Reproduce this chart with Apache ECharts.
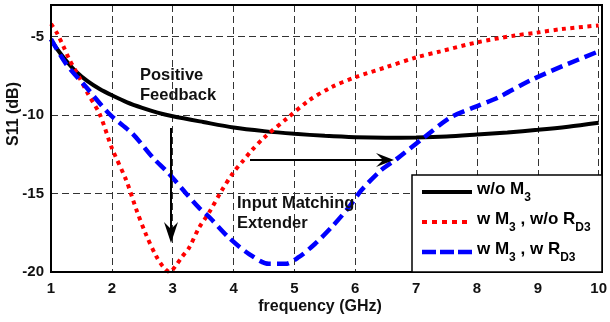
<!DOCTYPE html>
<html>
<head>
<meta charset="utf-8">
<script src="https://cdn.jsdelivr.net/npm/echarts@6/dist/echarts.min.js"></script>
<style>
html,body{margin:0;padding:0;background:#fff;}
#chart{width:610px;height:322px;}
</style>
</head>
<body>
<div id="chart"></div>
<script>
// ---- data ----
const xTicks = [1, 2, 3, 4, 5, 6, 7, 8, 9, 10];
const yTicks = [-20, -15, -10, -5];

const freqBlack = [1.0, 1.1, 1.25, 1.4, 1.6, 1.8, 2.0, 2.25, 2.5, 2.75, 3.0, 3.5, 4.0, 4.5, 5.0, 5.5, 6.0, 6.5, 7.0, 7.5, 8.0, 8.5, 9.0, 9.5, 10.0];
const s11Black  = [-5.2, -5.8, -6.55, -7.2, -7.85, -8.35, -8.75, -9.2, -9.55, -9.85, -10.08, -10.45, -10.8, -11.03, -11.2, -11.33, -11.42, -11.45, -11.43, -11.37, -11.25, -11.12, -10.95, -10.75, -10.5];

const freqRed = [1.0, 1.1, 1.2, 1.3, 1.45, 1.6, 1.8, 2.0, 2.24, 2.4, 2.56, 2.73, 2.85, 2.95, 3.05, 3.15, 3.27, 3.43, 3.6, 3.8, 4.0, 4.15, 4.3, 4.5, 4.9, 5.23, 5.6, 6.0, 6.5, 7.0, 7.4, 8.0, 8.6, 9.0, 9.4, 10.0];
const s11Red  = [-4.2, -4.8, -5.6, -6.45, -7.5, -8.6, -9.95, -12.1, -14.2, -16.0, -17.6, -19.0, -19.7, -20.0, -19.6, -19.05, -18.45, -17.2, -16.2, -14.85, -13.65, -12.95, -12.25, -11.45, -10.15, -9.1, -8.25, -7.6, -6.97, -6.34, -5.95, -5.38, -4.96, -4.75, -4.53, -4.3];

const freqBlue = [1.0, 1.25, 1.58, 1.96, 2.34, 2.67, 2.94, 3.22, 3.43, 3.6, 3.92, 4.25, 4.58, 4.85, 5.07, 5.34, 5.61, 5.89, 6.1, 6.43, 6.7, 7.14, 7.57, 7.96, 8.34, 8.88, 9.42, 10.0];
const s11Blue  = [-5.17, -6.76, -8.24, -9.94, -11.2, -12.7, -13.75, -15.0, -15.9, -16.5, -17.8, -18.84, -19.48, -19.48, -19.06, -18.2, -17.15, -15.9, -14.8, -13.5, -12.75, -11.4, -10.15, -9.5, -8.9, -7.8, -6.87, -5.95];

const seriesNames = ['w/o M3', 'w M3 , w/o RD3', 'w M3 , w RD3'];

// ---- layout ----
const G = {left: 51, top: 5, right: 8, bottom: 50};
const W = 610, H = 322;
const plotW = W - G.left - G.right, plotH = H - G.top - G.bottom;
const FONT = 'Liberation Sans, Arial, sans-serif';

function zip(a, b) { return a.map((v, i) => [v, b[i]]); }

const chart = echarts.init(document.getElementById('chart'), null, {renderer: 'canvas'});

const bold16 = {fontFamily: FONT, fontWeight: 'bold', fontSize: 16, fill: '#111'};
const boldAnn = {fontFamily: FONT, fontWeight: 'bold', fontSize: 16.5, fill: '#111'};

function legendRow(y, parts, lineStyle) {
  return [
    {type: 'line', shape: {x1: 422, y1: y + 1, x2: 472, y2: y + 1}, style: lineStyle, z: 101},
    {type: 'text', x: 477, y: y - 10, z: 101, style: {
      text: parts, fontFamily: FONT,
      rich: {
        m: {fontFamily: FONT, fontWeight: 'bold', fontSize: 17, lineHeight: 19, verticalAlign: 'top', color: '#111'},
        s: {fontFamily: FONT, fontWeight: 'bold', fontSize: 12, lineHeight: 13, padding: [11, 0, 0, 0], verticalAlign: 'top', color: '#111'}
      }
    }}
  ];
}

const option = {
  animation: false,
  backgroundColor: '#fff',
  grid: {left: G.left, top: G.top, right: G.right, bottom: G.bottom, containLabel: false},
  xAxis: {
    type: 'value', min: 1, max: 10, interval: 1,
    axisLine: {show: false}, axisTick: {show: false},
    axisLabel: {margin: 9, fontFamily: FONT, fontWeight: 'bold', fontSize: 15, color: '#111',
      formatter: v => xTicks.includes(v) ? String(v) : ''},
    splitLine: {show: true, lineStyle: {color: '#333', type: [7, 4], width: 1}}
  },
  yAxis: {
    type: 'value', min: -20, max: -3, interval: 5,
    axisLine: {show: false}, axisTick: {show: false},
    axisLabel: {margin: 7, fontFamily: FONT, fontWeight: 'bold', fontSize: 15, color: '#111',
      formatter: v => yTicks.includes(v) ? String(v) : ''},
    splitLine: {show: true, lineStyle: {color: '#333', type: [7, 4], width: 1}}
  },
  series: [
    {name: seriesNames[0], type: 'line', data: zip(freqBlack, s11Black), showSymbol: false, smooth: 0.3,
      lineStyle: {color: '#000', width: 4, type: 'solid'}, z: 2},
    {name: seriesNames[1], type: 'line', data: zip(freqRed, s11Red), showSymbol: false, smooth: 0.3,
      lineStyle: {color: '#ff0000', width: 4, type: [4, 4.5]}, z: 3},
    {name: seriesNames[2], type: 'line', data: zip(freqBlue, s11Blue), showSymbol: false, smooth: 0.3,
      lineStyle: {color: '#0000ff', width: 4.5, type: [12, 6]}, z: 4}
  ],
  graphic: [
    // plot frame
    {type: 'rect', z: 100, shape: {x: G.left, y: G.top, width: plotW, height: plotH},
      style: {fill: 'none', stroke: '#000', lineWidth: 2}},
    // axis titles
    {type: 'text', z: 100, x: 14, y: 114, rotation: Math.PI / 2, style: Object.assign({text: 'S11 (dB)', align: 'center', verticalAlign: 'middle'}, bold16)},
    {type: 'text', z: 100, x: 320, y: 307, style: Object.assign({text: 'frequency (GHz)', align: 'center', verticalAlign: 'middle'}, bold16)},
    // annotations
    {type: 'text', z: 100, x: 140, y: 75, style: Object.assign({text: 'Positive', align: 'left', verticalAlign: 'middle'}, boldAnn)},
    {type: 'text', z: 100, x: 140, y: 95, style: Object.assign({text: 'Feedback', align: 'left', verticalAlign: 'middle'}, boldAnn)},
    {type: 'text', z: 100, x: 237, y: 203, style: Object.assign({text: 'Input Matching', align: 'left', verticalAlign: 'middle'}, boldAnn)},
    {type: 'text', z: 100, x: 237, y: 223, style: Object.assign({text: 'Extender', align: 'left', verticalAlign: 'middle'}, boldAnn)},
    // down arrow
    {type: 'line', z: 100, shape: {x1: 171, y1: 128, x2: 171, y2: 232}, style: {stroke: '#000', lineWidth: 2}},
    {type: 'polygon', z: 100, shape: {points: [[164, 222], [171, 229], [178, 222], [171, 243]]}, style: {fill: '#000'}},
    // right arrow
    {type: 'line', z: 100, shape: {x1: 250, y1: 160, x2: 384, y2: 160}, style: {stroke: '#000', lineWidth: 2}},
    {type: 'polygon', z: 100, shape: {points: [[376, 153], [383, 160], [376, 167], [394, 160]]}, style: {fill: '#000'}},
    // legend box
    {type: 'rect', z: 100, shape: {x: 412, y: 175, width: 190, height: 97},
      style: {fill: '#fff', stroke: '#000', lineWidth: 1.5}},
    ...legendRow(191, '{m|w/o M}{s|3}', {stroke: '#000', lineWidth: 4}),
    ...legendRow(221, '{m|w M}{s|3}{m| , w/o R}{s|D3}', {stroke: '#ff0000', lineWidth: 4, lineDash: [5, 5]}),
    ...legendRow(251, '{m|w M}{s|3}{m| , w R}{s|D3}', {stroke: '#0000ff', lineWidth: 4.5, lineDash: [14, 4]})
  ]
};

chart.setOption(option);
</script>
</body>
</html>
